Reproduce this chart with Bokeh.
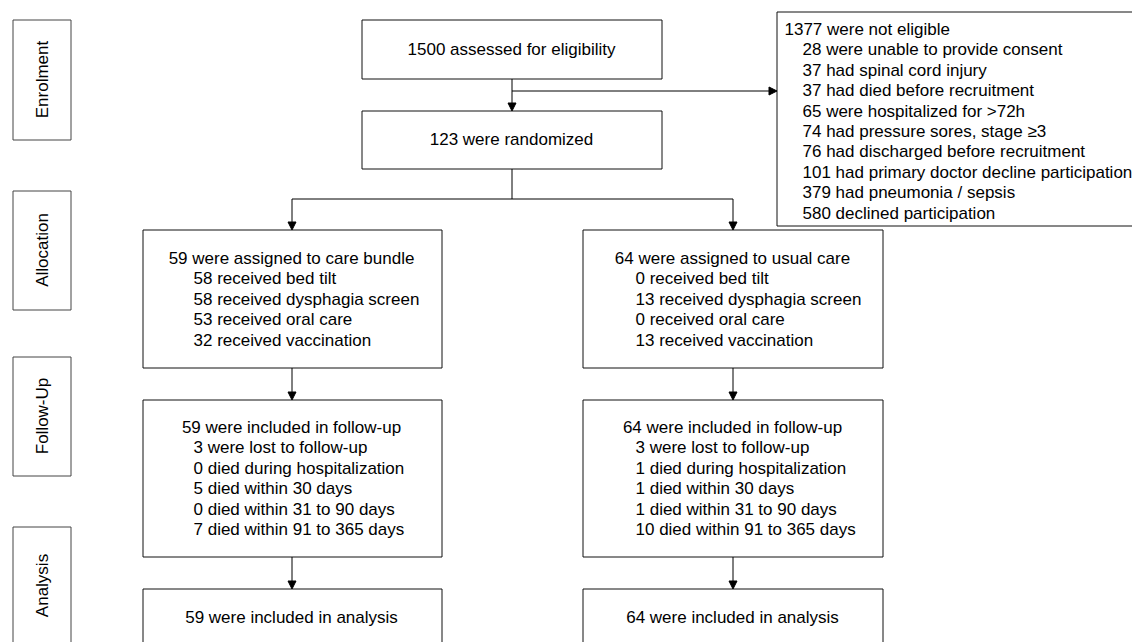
import math
from bokeh.plotting import figure
from bokeh.models import Range1d, Arrow, NormalHead
from bokeh.core.properties import value
from bokeh.embed import file_html
from bokeh.resources import INLINE

# ---------------- data ----------------
stages = ["Enrolment", "Allocation", "Follow-Up", "Analysis"]
assessed = 1500
not_eligible = 1377
excl_counts = [28, 37, 37, 65, 74, 76, 101, 379, 580]
excl_reasons = [
    "were unable to provide consent",
    "had spinal cord injury",
    "had died before recruitment",
    "were hospitalized for >72h",
    "had pressure sores, stage \u22653",
    "had discharged before recruitment",
    "had primary doctor decline participation",
    "had pneumonia / sepsis",
    "declined participation",
]
randomized = 123
arms = ["care bundle", "usual care"]
assigned = [59, 64]
interventions = ["bed tilt", "dysphagia screen", "oral care", "vaccination"]
received_bundle = [58, 58, 53, 32]
received_usual = [0, 13, 0, 13]
followup_n = [59, 64]
followup_items = [
    "were lost to follow-up",
    "died during hospitalization",
    "died within 30 days",
    "died within 31 to 90 days",
    "died within 91 to 365 days",
]
followup_bundle = [3, 0, 5, 0, 7]
followup_usual = [3, 1, 1, 1, 10]
analysed = [59, 64]

# ---------------- layout ----------------
W, H = 1132, 642
p = figure(width=W, height=H, output_backend="svg", toolbar_location=None,
           x_range=Range1d(0, W), y_range=Range1d(H, 0),
           min_border=0, background_fill_color="white", border_fill_color="white")
p.axis.visible = False
p.grid.visible = False
p.outline_line_color = None

FONT = value("Liberation Sans")
FS = "17px"
LH = 20.4
TXT = "#000000"


def s(v):
    return v + 0.5


def box(l, r, t, b, color="#111111"):
    p.quad(left=s(l), right=s(r), top=s(t), bottom=s(b), fill_color="white",
           line_color=color, line_width=1)


def line(xs, ys):
    p.line([s(x) for x in xs], [s(y) for y in ys], line_color="black", line_width=1)


def arrow(x0, y0, x1, y1):
    p.add_layout(Arrow(end=NormalHead(size=8, fill_color="black", line_color="black", line_width=1),
                       x_start=s(x0), y_start=s(y0), x_end=s(x1), y_end=s(y1),
                       line_color="black", line_width=1))


def text(x, y, t, align="left", angle=0):
    p.text(x=[x], y=[y], text=[t], text_font=FONT, text_font_size=FS,
           text_align=align, text_baseline="middle", text_color=TXT, angle=angle)


# side stage boxes
side_y = [(19, 139), (190, 309), (356, 475), (526, 660)]
label_y = [79, 249.5, 415.5, 585]
for name, (t, b), ly in zip(stages, side_y, label_y):
    box(12, 70, t, b, color="#444444")
    text(41.5, ly, name, align="center", angle=math.pi / 2)

# enrolment
box(361, 661, 19, 78)
text(511, 49, f"{assessed} assessed for eligibility", align="center")
box(361, 661, 110, 168)
text(511, 139, f"{randomized} were randomized", align="center")

box(776, 1150, 11, 225)
text(784, 29, f"{not_eligible} were not eligible")
for i, (c, r) in enumerate(zip(excl_counts, excl_reasons)):
    text(802, 29 + (i + 1) * LH, f"{c} {r}")

arrow(511, 78, 511, 110)
arrow(511, 90, 776, 90)
line([511, 511], [168, 198])
line([291, 732], [198, 198])
arrow(291, 198, 291, 229)
arrow(732, 198, 732, 229)

# arm columns
cols = [(142, 441, 291, 193), (582, 882, 732, 635)]
received = [received_bundle, received_usual]
followups = [followup_bundle, followup_usual]
for k, (l, r, cx, sx) in enumerate(cols):
    # allocation
    box(l, r, 229, 367)
    text(cx, 258, f"{assigned[k]} were assigned to {arms[k]}", align="center")
    for i, (n, it) in enumerate(zip(received[k], interventions)):
        text(sx, 258 + (i + 1) * LH, f"{n} received {it}")
    arrow(cx, 367, cx, 399)
    # follow-up
    box(l, r, 399, 556)
    text(cx, 427, f"{followup_n[k]} were included in follow-up", align="center")
    for i, (n, it) in enumerate(zip(followups[k], followup_items)):
        text(sx, 427 + (i + 1) * LH, f"{n} {it}")
    arrow(cx, 556, cx, 588)
    # analysis
    box(l, r, 588, 660)
    text(cx, 617, f"{analysed[k]} were included in analysis", align="center")

open("out.html", "w").write(file_html(p, INLINE))
